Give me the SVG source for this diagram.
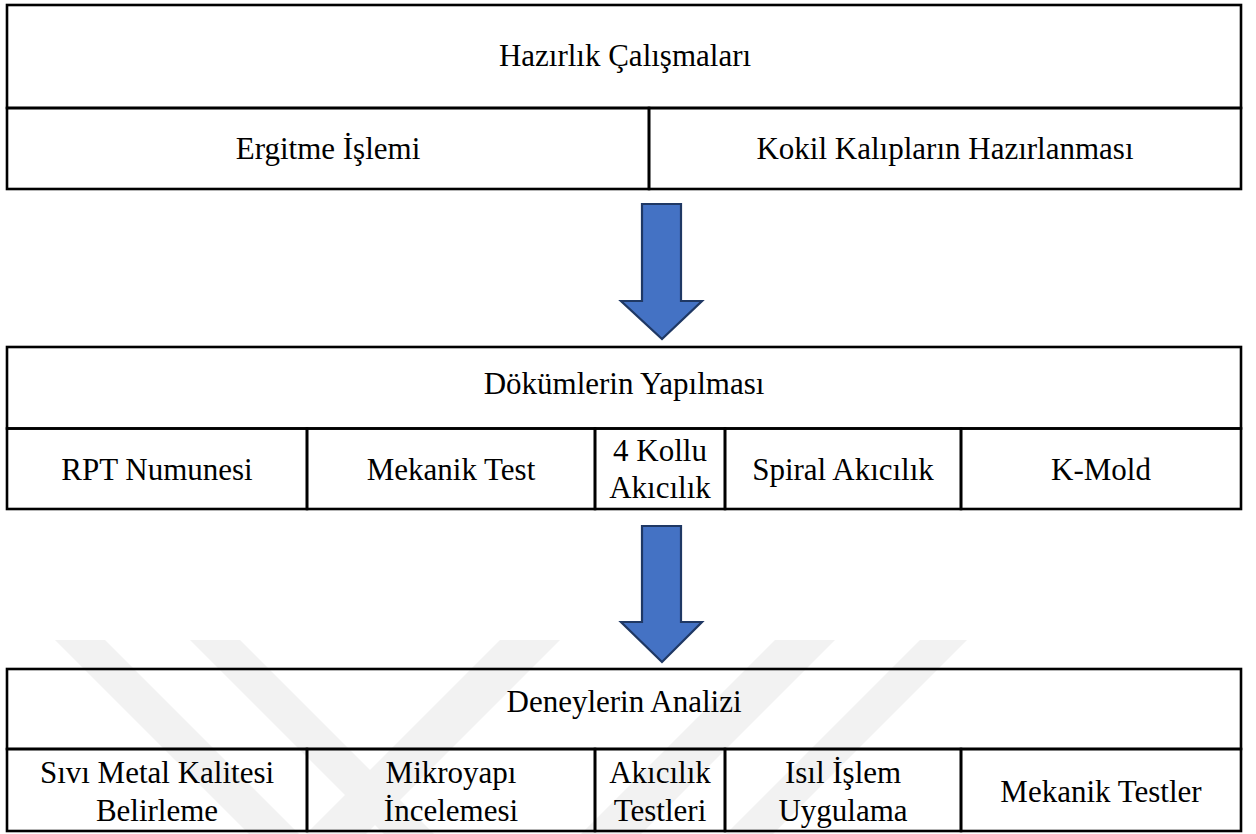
<svg xmlns="http://www.w3.org/2000/svg" width="1256" height="834" viewBox="0 0 1256 834">
<style>
.cell{fill:none;stroke:#000;stroke-width:2.6}
.t{fill:#000;text-anchor:middle}
.arrow{fill:#4472C4;stroke:#1F3864;stroke-width:2.2;stroke-linejoin:miter}
.wm{fill:#f2f2f2}
</style>
<rect x="0" y="0" width="1256" height="834" fill="#fff"/>
<g id="watermark">
<polygon class="wm" points="55,640 105,640 299,834 249,834"/>
<polygon class="wm" points="190,640 240,640 434,834 384,834"/>
<polygon class="wm" points="500,640 560,640 366,834 306,834"/>
<polygon class="wm" points="775,640 835,640 641,834 581,834"/>
<polygon class="wm" points="920,640 967,640 773,834 726,834"/>
</g>
<g id="table1" font-family="Liberation Serif, Times New Roman, serif" font-size="31">
<g id="n-hazirlik"><rect class="cell" x="7" y="5" width="1234" height="103"/><text class="t" x="625" y="66">Hazırlık Çalışmaları</text></g>
<g id="n-ergitme"><rect class="cell" x="7" y="108" width="642" height="81"/><text class="t" x="328" y="159">Ergitme İşlemi</text></g>
<g id="n-kokil"><rect class="cell" x="649" y="108" width="592" height="81"/><text class="t" x="945" y="159">Kokil Kalıpların Hazırlanması</text></g>
</g>
<g id="table2" font-family="Liberation Serif, Times New Roman, serif" font-size="31">
<g id="n-dokum"><rect class="cell" x="7" y="347" width="1234" height="81.5"/><text class="t" x="624" y="394">Dökümlerin Yapılması</text></g>
<g id="n-rpt"><rect class="cell" x="7" y="428.5" width="300" height="80.5"/><text class="t" x="157" y="480">RPT Numunesi</text></g>
<g id="n-mektest"><rect class="cell" x="307" y="428.5" width="288" height="80.5"/><text class="t" x="451" y="480">Mekanik Test</text></g>
<g id="n-4kollu"><rect class="cell" x="595" y="428.5" width="130" height="80.5"/><text class="t" x="660" y="461">4 Kollu</text><text class="t" x="660" y="498">Akıcılık</text></g>
<g id="n-spiral"><rect class="cell" x="725" y="428.5" width="236" height="80.5"/><text class="t" x="843" y="480">Spiral Akıcılık</text></g>
<g id="n-kmold"><rect class="cell" x="961" y="428.5" width="280" height="80.5"/><text class="t" x="1101" y="480">K-Mold</text></g>
</g>
<g id="table3" font-family="Liberation Serif, Times New Roman, serif" font-size="31">
<g id="n-analiz"><rect class="cell" x="7" y="669" width="1234" height="80"/><text class="t" x="624" y="712">Deneylerin Analizi</text></g>
<g id="n-sivi"><rect class="cell" x="7" y="749" width="300" height="82"/><text class="t" x="157" y="783">Sıvı Metal Kalitesi</text><text class="t" x="157" y="821">Belirleme</text></g>
<g id="n-mikro"><rect class="cell" x="307" y="749" width="288" height="82"/><text class="t" x="451" y="783">Mikroyapı</text><text class="t" x="451" y="821">İncelemesi</text></g>
<g id="n-akicilik"><rect class="cell" x="595" y="749" width="130" height="82"/><text class="t" x="660" y="783">Akıcılık</text><text class="t" x="660" y="821">Testleri</text></g>
<g id="n-isil"><rect class="cell" x="725" y="749" width="236" height="82"/><text class="t" x="843" y="783">Isıl İşlem</text><text class="t" x="843" y="821">Uygulama</text></g>
<g id="n-mektestler"><rect class="cell" x="961" y="749" width="280" height="82"/><text class="t" x="1101" y="802">Mekanik Testler</text></g>
</g>
<g id="connectors">
<path class="arrow" d="M642,204 H681 V301 H702 L662,339 L621,301 H642 Z"/>
<path class="arrow" d="M642,526 H681 V622 H702 L662,662 L621,622 H642 Z"/>
</g>
</svg>
